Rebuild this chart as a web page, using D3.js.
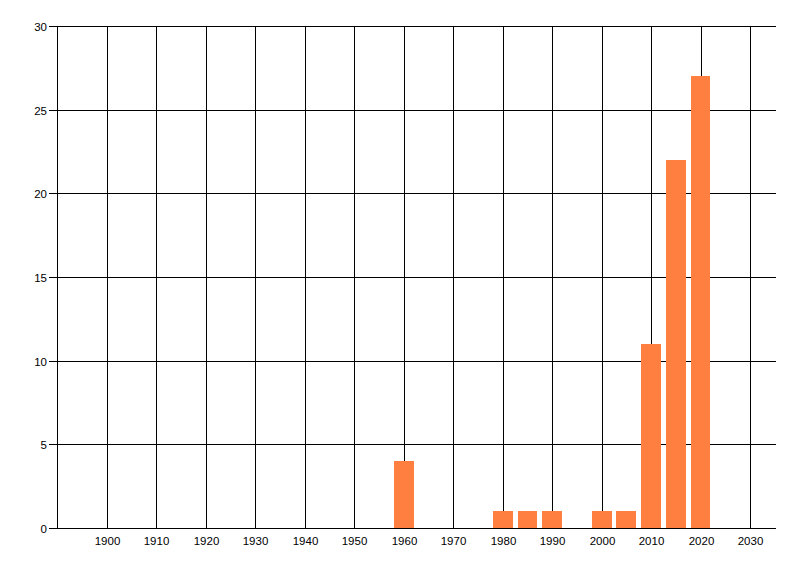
<!DOCTYPE html>
<html><head><meta charset="utf-8">
<script src="https://cdn.jsdelivr.net/npm/d3@7/dist/d3.min.js"></script>
<style>body{margin:0;background:#fff}svg{display:block}</style>
</head><body>
<svg id="chart" width="800" height="576"></svg>
<script>
const years = [1960, 1980, 1985, 1990, 2000, 2005, 2010, 2015, 2020];
const counts = [4, 1, 1, 1, 1, 1, 11, 22, 27];
const xTicks = [1900, 1910, 1920, 1930, 1940, 1950, 1960, 1970, 1980, 1990, 2000, 2010, 2020, 2030];
const yTicks = [0, 5, 10, 15, 20, 25, 30];

(function () {
const svg = d3.select("#chart");
const pLeft = 57, pRight = 776, pTop = 26, pBottom = 528;
const x = d3.scaleLinear().domain([1890, 2030]).range([57.5, 750]);
const y = d3.scaleLinear().domain([0, 30]).range([pBottom, pTop]);
const barYears = 4;
const font = "'Liberation Sans', Arial, sans-serif";
const px = (v) => Math.round(v) + 0.5;

const grid = svg.append("g");
grid.selectAll("line.v").data(xTicks).join("line")
  .attr("x1", (d) => px(x(d))).attr("x2", (d) => px(x(d)))
  .attr("y1", px(pTop)).attr("y2", px(pBottom))
  .attr("stroke", "#000").attr("stroke-width", 1);
grid.selectAll("line.h").data(yTicks).join("line")
  .attr("x1", pLeft - 8).attr("x2", pRight)
  .attr("y1", (d) => px(y(d))).attr("y2", (d) => px(y(d)))
  .attr("stroke", "#000").attr("stroke-width", 1);
grid.append("line").attr("x1", px(pLeft)).attr("x2", px(pLeft)).attr("y1", px(pTop)).attr("y2", px(pBottom))
  .attr("stroke", "#000");

svg.append("g").selectAll("rect").data(years).join("rect")
  .attr("x", (d) => Math.round(x(d - barYears / 2)))
  .attr("width", (d) => Math.round(x(d + barYears / 2)) - Math.round(x(d - barYears / 2)))
  .attr("y", (d, i) => Math.round(y(counts[i])))
  .attr("height", (d, i) => pBottom - Math.round(y(counts[i])))
  .attr("fill", "#ff7f40");

svg.append("g").selectAll("text").data(yTicks).join("text")
  .attr("x", 47).attr("y", (d) => px(y(d)))
  .attr("dy", "0.35em").attr("text-anchor", "end")
  .attr("font-family", font).attr("font-size", 11.5).attr("fill", "#000")
  .text((d) => d);
svg.append("g").selectAll("text").data(xTicks).join("text")
  .attr("x", (d) => px(x(d))).attr("y", 545)
  .attr("text-anchor", "middle")
  .attr("font-family", font).attr("font-size", 11.5).attr("fill", "#000")
  .text((d) => d);
})();
</script>
</body></html>
